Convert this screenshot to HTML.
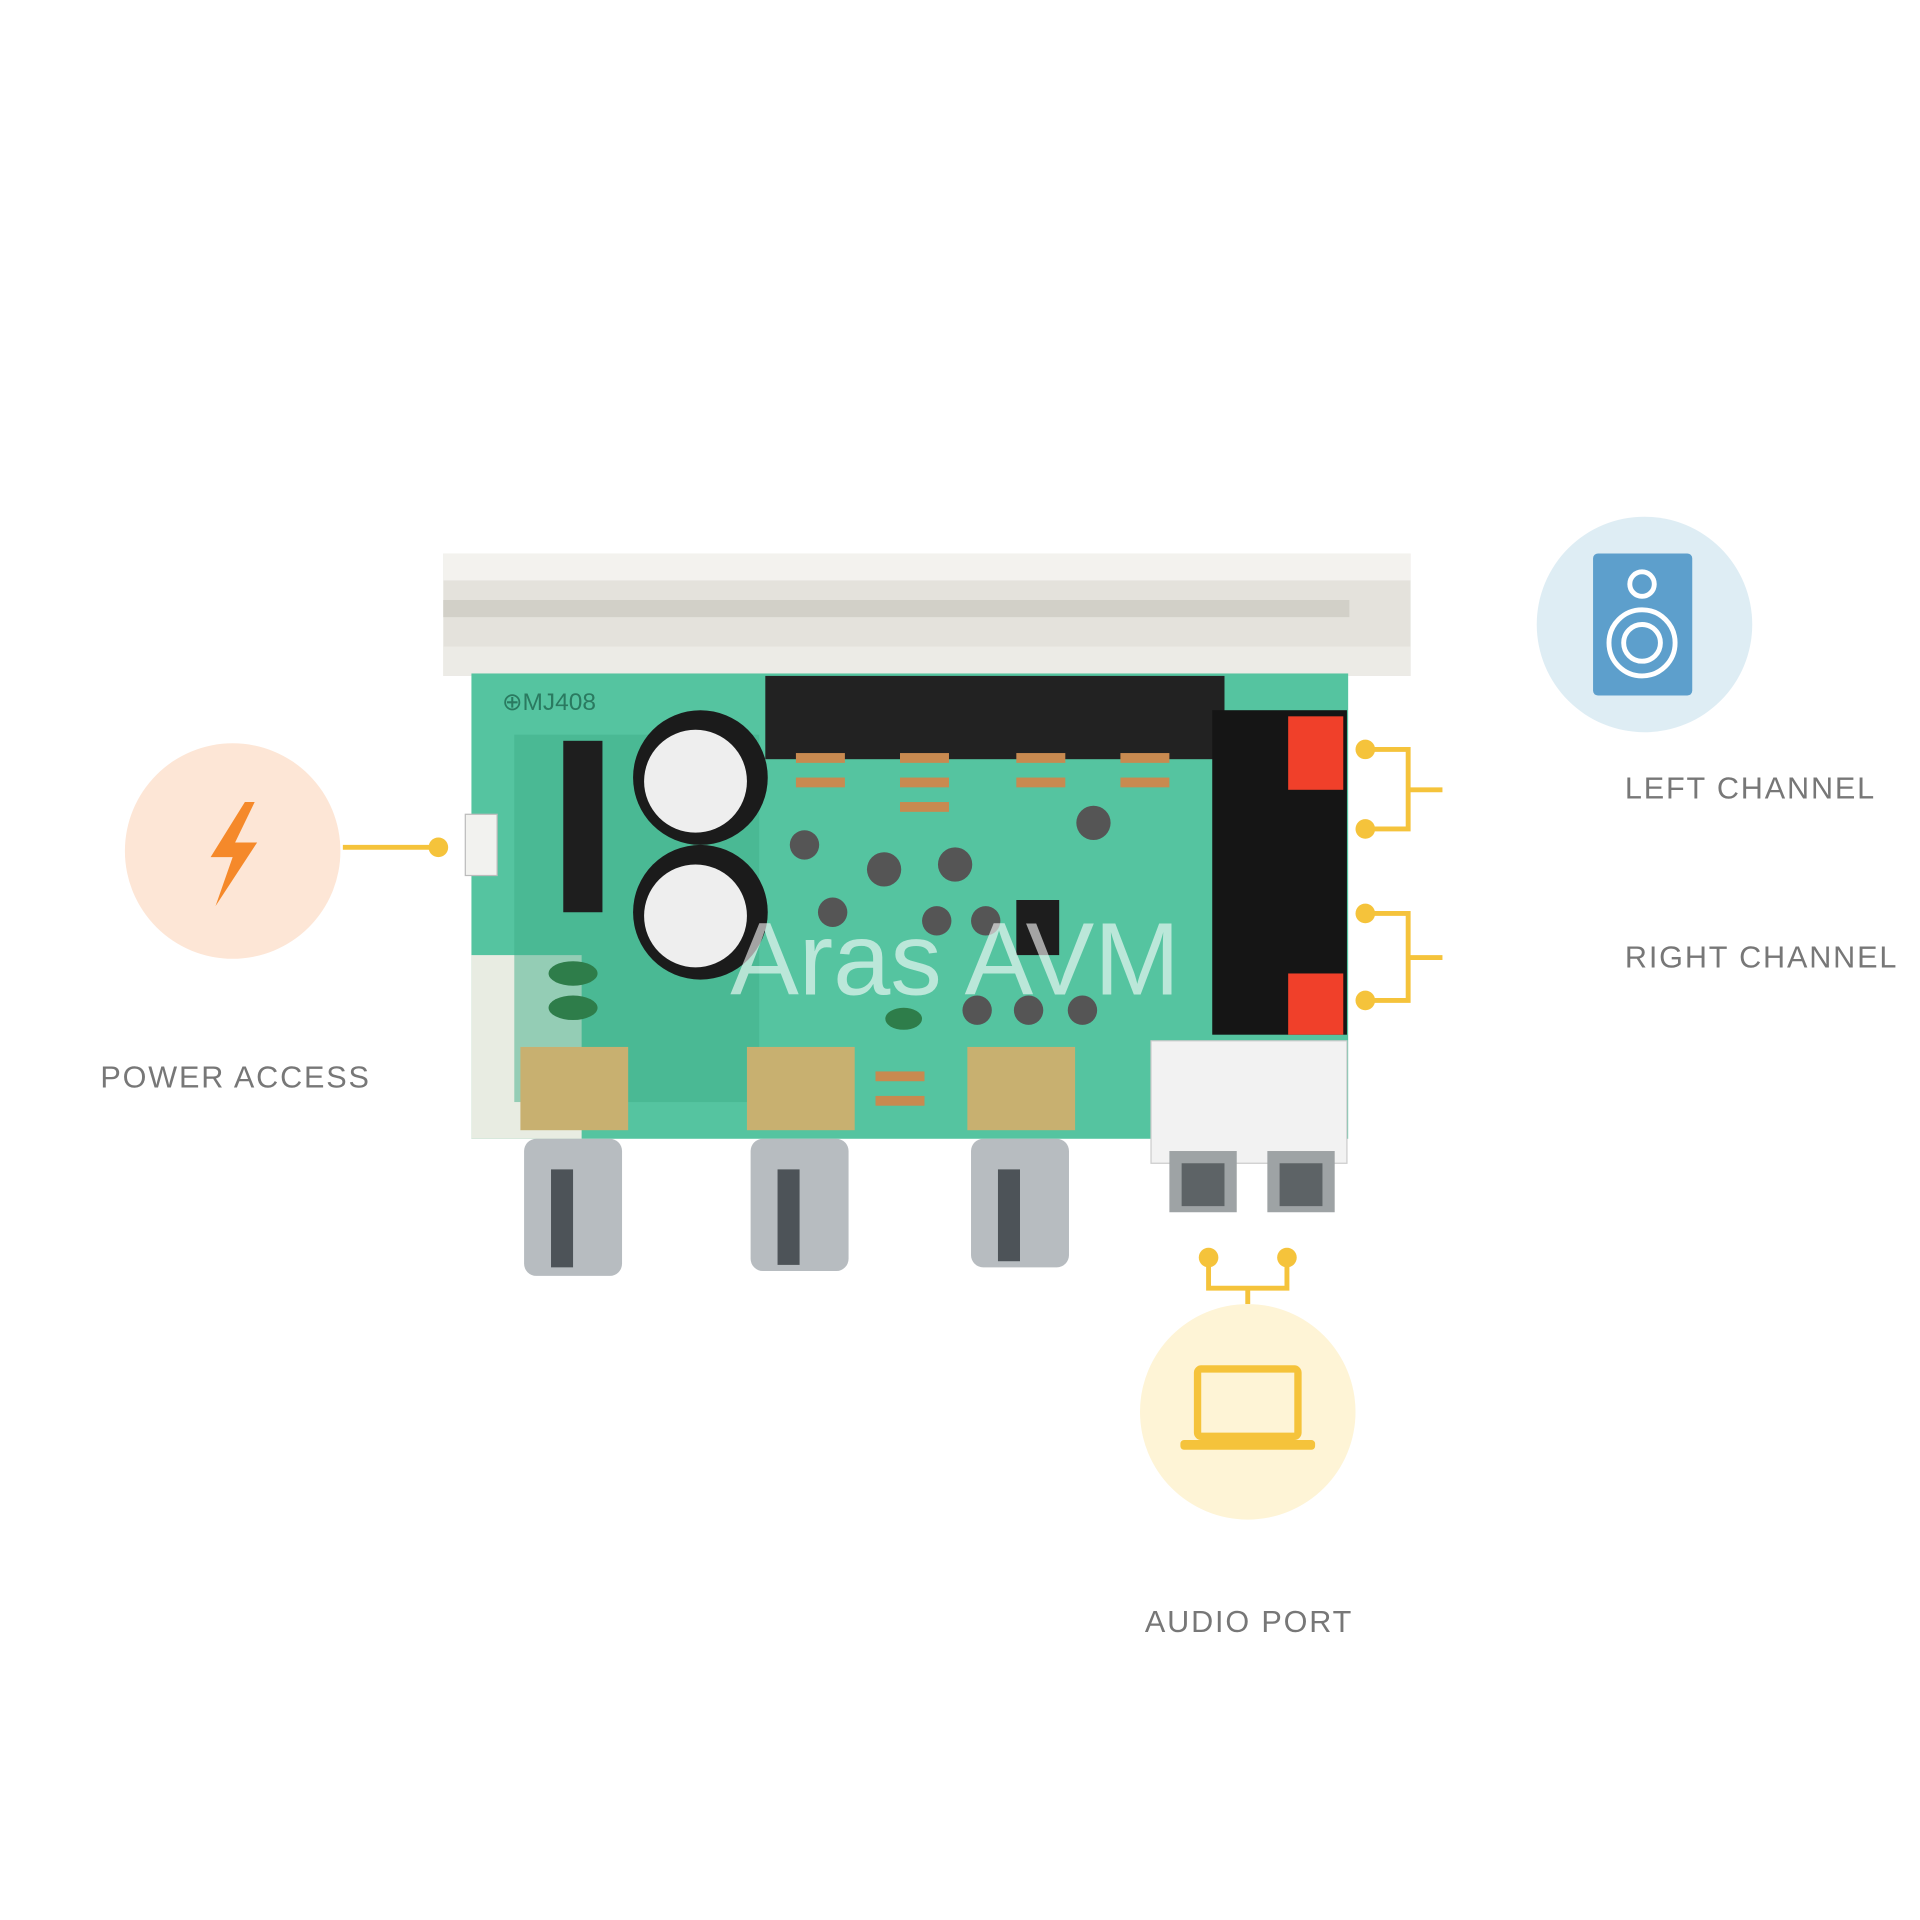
<!DOCTYPE html>
<html><head><meta charset="utf-8"><style>
html,body{margin:0;padding:0;background:#fff;width:1920px;height:1920px;overflow:hidden}
svg{display:block}
text{font-family:"Liberation Sans",sans-serif}
</style></head><body>
<svg width="1920" height="1920" viewBox="0 0 1568 1568" xmlns="http://www.w3.org/2000/svg">
<rect width="1568" height="1568" fill="#fff"/>
<!-- heatsink -->
<rect x="362" y="452" width="790" height="100" fill="#e4e2dc"/>
<rect x="362" y="452" width="790" height="22" fill="#f3f2ee"/>
<rect x="362" y="490" width="740" height="14" fill="#d2d0c8"/>
<rect x="362" y="528" width="790" height="24" fill="#ecebe6"/>
<!-- PCB -->
<rect x="385" y="550" width="716" height="380" fill="#55c4a0"/>
<rect x="385" y="780" width="90" height="150" fill="#e8ece2"/>
<rect x="420" y="600" width="200" height="300" fill="#3fae88" opacity="0.5"/>
<text x="410" y="580" font-size="20" fill="#2a7a60">⊕MJ408</text>
<!-- IC bar -->
<rect x="625" y="552" width="375" height="68" fill="#222"/>
<rect x="460" y="605" width="32" height="140" fill="#1e1e1e"/>
<!-- connector -->
<rect x="380" y="665" width="26" height="50" fill="#f2f2ef" stroke="#bbb"/>
<!-- caps -->
<circle cx="572" cy="635" r="55" fill="#1b1b1b"/><circle cx="568" cy="638" r="42" fill="#eee"/>
<circle cx="572" cy="745" r="55" fill="#1b1b1b"/><circle cx="568" cy="748" r="42" fill="#eee"/>
<g fill="#555">
<circle cx="657" cy="690" r="12"/><circle cx="722" cy="710" r="14"/><circle cx="780" cy="706" r="14"/>
<circle cx="893" cy="672" r="14"/><circle cx="680" cy="745" r="12"/><circle cx="765" cy="752" r="12"/>
<circle cx="805" cy="752" r="12"/><circle cx="798" cy="825" r="12"/><circle cx="840" cy="825" r="12"/><circle cx="884" cy="825" r="12"/>
</g>
<rect x="830" y="735" width="35" height="45" fill="#1d1d1d"/>
<g fill="#c88a50">
<rect x="650" y="615" width="40" height="8"/><rect x="735" y="615" width="40" height="8"/><rect x="830" y="615" width="40" height="8"/><rect x="915" y="615" width="40" height="8"/>
<rect x="650" y="635" width="40" height="8"/><rect x="735" y="635" width="40" height="8"/><rect x="830" y="635" width="40" height="8"/><rect x="915" y="635" width="40" height="8"/>
<rect x="735" y="655" width="40" height="8"/><rect x="715" y="875" width="40" height="8"/><rect x="715" y="895" width="40" height="8"/>
</g>
<g fill="#2e7d4a"><ellipse cx="468" cy="795" rx="20" ry="10"/><ellipse cx="468" cy="823" rx="20" ry="10"/><ellipse cx="738" cy="832" rx="15" ry="9"/></g>
<!-- pots -->
<g fill="#c8b070">
<rect x="425" y="855" width="88" height="68"/><rect x="610" y="855" width="88" height="68"/><rect x="790" y="855" width="88" height="68"/>
</g>
<g fill="#b7bcc0">
<rect x="428" y="930" width="80" height="112" rx="10"/><rect x="613" y="930" width="80" height="108" rx="10"/><rect x="793" y="930" width="80" height="105" rx="10"/>
</g>
<g fill="#4d5358"><rect x="450" y="955" width="18" height="80"/><rect x="635" y="955" width="18" height="78"/><rect x="815" y="955" width="18" height="75"/></g>
<!-- speaker terminal -->
<rect x="990" y="580" width="110" height="265" fill="#151515"/>
<rect x="1052" y="585" width="45" height="60" fill="#f0402a"/>
<rect x="1052" y="795" width="45" height="50" fill="#f0402a"/>
<!-- RCA -->
<rect x="940" y="850" width="160" height="100" fill="#f2f2f2" stroke="#ccc"/>
<rect x="955" y="940" width="55" height="50" fill="#9ea3a5"/><rect x="1035" y="940" width="55" height="50" fill="#9ea3a5"/>
<rect x="965" y="950" width="35" height="35" fill="#5d6366"/><rect x="1045" y="950" width="35" height="35" fill="#5d6366"/>
<text x="780" y="812" font-size="84" fill="#fff" fill-opacity="0.6" text-anchor="middle">Aras AVM</text>
<!-- connectors -->
<g stroke="#f5c33b" stroke-width="4" fill="none">
<line x1="280" y1="692" x2="358" y2="692"/>
<path d="M1115 612 H1150 V677 H1115 M1150 645 H1178"/>
<path d="M1115 746 H1150 V817 H1115 M1150 782 H1178"/>
<path d="M987 1027 V1052 H1051 V1027 M1019 1052 V1065"/>
</g>
<g fill="#f5c33b">
<circle cx="358" cy="692" r="8"/><circle cx="1115" cy="612" r="8"/><circle cx="1115" cy="677" r="8"/>
<circle cx="1115" cy="746" r="8"/><circle cx="1115" cy="817" r="8"/><circle cx="987" cy="1027" r="8"/><circle cx="1051" cy="1027" r="8"/>
</g>
<!-- power icon -->
<circle cx="190" cy="695" r="88" fill="#fde6d6"/>
<path d="M200 655 L172 700 H190 L176 740 L210 688 H192 L208 655Z" fill="#f5892a"/>
<text x="82" y="888" font-size="25" fill="#777" letter-spacing="1.5">POWER ACCESS</text>
<!-- speaker icon -->
<circle cx="1343" cy="510" r="88" fill="#deedf4"/>
<rect x="1301" y="452" width="81" height="116" rx="4" fill="#5d9fcc"/>
<circle cx="1341" cy="477" r="10" fill="none" stroke="#fff" stroke-width="4"/>
<circle cx="1341" cy="525" r="27" fill="none" stroke="#fff" stroke-width="4"/>
<circle cx="1341" cy="525" r="15" fill="none" stroke="#fff" stroke-width="4"/>
<text x="1327" y="652" font-size="25" fill="#777" letter-spacing="1.5">LEFT CHANNEL</text>
<text x="1327" y="790" font-size="25" fill="#777" letter-spacing="1.5">RIGHT CHANNEL</text>
<!-- laptop -->
<circle cx="1019" cy="1153" r="88" fill="#fef4d6"/>
<rect x="978" y="1118" width="82" height="55" rx="3" fill="none" stroke="#f5c33b" stroke-width="6"/>
<rect x="964" y="1176" width="110" height="8" rx="3" fill="#f5c33b"/>
<text x="935" y="1333" font-size="25" fill="#777" letter-spacing="1.5">AUDIO PORT</text>
</svg>
</body></html>
